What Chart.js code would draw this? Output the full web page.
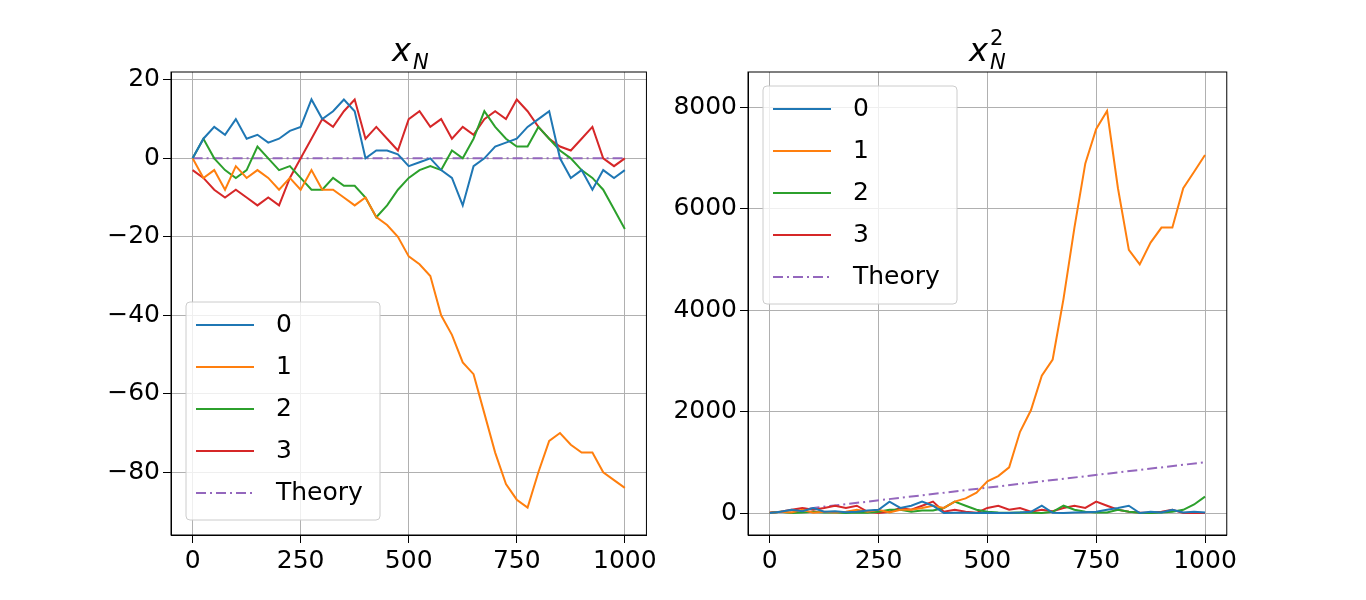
<!DOCTYPE html>
<html>
<head>
<meta charset="utf-8">
<script src="https://cdn.jsdelivr.net/npm/chart.js@4"></script>
<style>
body { margin: 0; background: #fff; font-family: "DejaVu Sans", sans-serif; }
#wrap { position: relative; width: 1366px; height: 600px; }
.box { position: absolute; top: 0; height: 600px; }
.ttl { position: absolute; font-size: 32px; font-style: italic; font-family: "DejaVu Sans", sans-serif; line-height: 1; }
.sm { position: absolute; font-size: 21px; font-family: "DejaVu Sans", sans-serif; line-height: 1; }
</style>
</head>
<body>
<div id="wrap">
    <div class="box" style="left:90px;width:570px"><canvas id="c1"></canvas></div>
    <div class="box" style="left:660px;width:580px"><canvas id="c2"></canvas></div>
    <div class="ttl" style="left:392px;top:34px">x</div>
    <div class="sm" style="left:413px;top:52px;font-style:italic">N</div>
    <div class="ttl" style="left:969px;top:34px">x</div>
    <div class="sm" style="left:990px;top:28px">2</div>
    <div class="sm" style="left:990px;top:52px;font-style:italic">N</div>
</div>
<script>
// dữ liệu, mỗi 25 bước
const steps = [];
for (let i = 0; i <= 1000; i += 25) steps.push(i);
const walk0 = [0,5,8,6,10,5,6,4,5,7,8,15,10,12,15,12,0,2,2,1,-2,-1,0,-3,-5,-12,-2,0,3,4,5,8,10,12,0,-5,-3,-8,-3,-5,-3];
const walk1 = [0,-5,-3,-8,-2,-5,-3,-5,-8,-5,-8,-3,-8,-8,-10,-12,-10,-15,-17,-20,-25,-27,-30,-40,-45,-52,-55,-65,-75,-83,-87,-89,-80,-72,-70,-73,-75,-75,-80,-82,-84];
const walk2 = [0,5,0,-3,-5,-3,3,0,-3,-2,-5,-8,-8,-5,-7,-7,-10,-15,-12,-8,-5,-3,-2,-3,2,0,5,12,8,5,3,3,8,5,2,0,-3,-5,-8,-13,-18];
const walk3 = [-3,-5,-8,-10,-8,-10,-12,-10,-12,-5,0,5,10,8,12,15,5,8,5,2,10,12,8,10,5,8,6,10,12,10,15,12,8,5,3,2,5,8,0,-2,0];
const theoryX = [0, 1000];
const theory1 = [0, 0];
const theory2 = [0, 1000];
const labels = ['0', '1', '2', '3', 'Theory'];
const colors = ['#1f77b4', '#ff7f0e', '#2ca02c', '#d62728', '#9467bd'];
const xTicks = [0, 250, 500, 750, 1000];
const yTicks1 = [-80, -60, -40, -20, 0, 20];
const yTicks2 = [0, 2000, 4000, 6000, 8000];

function pts(xs, ys) { return xs.map((x, i) => ({x: x, y: ys[i]})); }

function makeSets(series, theory) {
    let sets = series.map((s, i) => ({
        label: labels[i], data: pts(steps, s), borderColor: colors[i],
        borderWidth: 2, pointRadius: 0, tension: 0
    }));
    sets.push({label: 'Theory', data: pts(theoryX, theory), borderColor: colors[4],
        borderWidth: 2, pointRadius: 0, borderDash: [10, 4, 2, 4]});
    return sets;
}

// khung + chú thích vẽ trong vùng biểu đồ
function legendPlugin(ox, oy) {
    return {
        id: 'inlegend',
        afterDraw(chart) {
            const ctx = chart.ctx, a = chart.chartArea;
            ctx.save();
            ctx.strokeStyle = '#000';
            ctx.lineWidth = 1;
            ctx.strokeRect(a.left, a.top, a.right - a.left, a.bottom - a.top);
            const x = a.left + ox, y = a.top + oy, w = 194, h = 218;
            ctx.fillStyle = 'rgba(255,255,255,0.8)';
            ctx.strokeStyle = '#ccc';
            ctx.beginPath();
            ctx.roundRect(x, y, w, h, 4);
            ctx.fill(); ctx.stroke();
            ctx.font = '25px "DejaVu Sans"';
            ctx.textBaseline = 'middle';
            chart.data.datasets.forEach((d, i) => {
                const ly = y + 23 + i * 42;
                ctx.strokeStyle = d.borderColor;
                ctx.lineWidth = 2;
                ctx.setLineDash(d.borderDash || []);
                ctx.beginPath(); ctx.moveTo(x + 10, ly); ctx.lineTo(x + 68, ly); ctx.stroke();
                ctx.setLineDash([]);
                ctx.fillStyle = '#000';
                ctx.fillText(d.label, x + 90, ly);
            });
            ctx.restore();
        }
    };
}

function makeChart(id, sets, yMin, yMax, yTicks, yWidth, padRight, lx, ly) {
    new Chart(id, {
        type: 'line',
        data: {datasets: sets},
        options: {
            responsive: false, animation: false,
            layout: {padding: {top: 72, right: padRight, bottom: 0, left: 0}},
            plugins: {legend: {display: false}, tooltip: {enabled: false}},
            scales: {
                x: {
                    type: 'linear', min: -50, max: 1050,
                    afterBuildTicks: s => { s.ticks = xTicks.map(v => ({value: v})); },
                    afterFit: s => { s.height = 65; },
                    grid: {color: '#b0b0b0', tickLength: 8, tickColor: '#000'},
                    border: {color: '#000'},
                    ticks: {color: '#000', font: {size: 25, family: 'DejaVu Sans'}, maxRotation: 0,
                        callback: v => String(v)}
                },
                y: {
                    min: yMin, max: yMax,
                    afterBuildTicks: s => { s.ticks = yTicks.map(v => ({value: v})); },
                    afterFit: s => { s.width = yWidth; },
                    grid: {color: '#b0b0b0', tickLength: 8, tickColor: '#000'},
                    border: {color: '#000'},
                    ticks: {color: '#000', font: {size: 25, family: 'DejaVu Sans'},
                        callback: v => String(v).replace('-', '\u2212')}
                }
            }
        },
        plugins: [legendPlugin(lx, ly)]
    });
}

document.getElementById('c1').width = 570; document.getElementById('c1').height = 600;
document.getElementById('c2').width = 580; document.getElementById('c2').height = 600;

makeChart('c1', makeSets([walk0, walk1, walk2, walk3], theory1), -96, 22, yTicks1, 81, 8, 15, 230);
const sq = [walk0, walk1, walk2, walk3].map(s => s.map(v => v * v));
makeChart('c2', makeSets(sq, theory2), -433, 8690, yTicks2, 88, 4, 15, 14);
</script>
</body>
</html>
